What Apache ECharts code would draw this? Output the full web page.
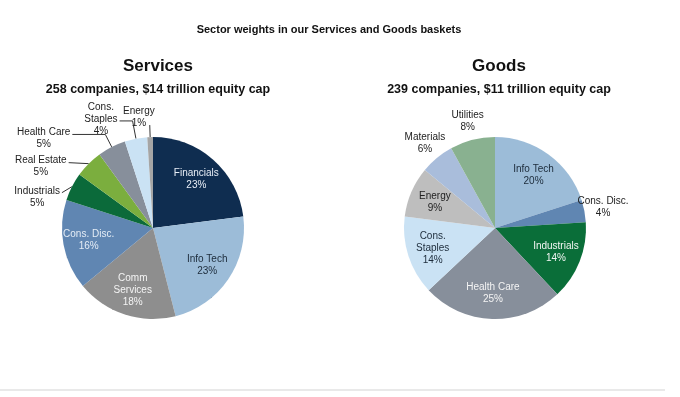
<!DOCTYPE html>
<html>
<head>
<meta charset="utf-8">
<script src="https://cdn.jsdelivr.net/npm/echarts@6/dist/echarts.min.js"></script>
<style>
  html, body { margin: 0; padding: 0; background: #fff; }
  #chart { width: 680px; height: 397px; }
</style>
</head>
<body>
<div id="chart"></div>
<script>
const servicesSectors = ['Financials', 'Info Tech', 'Comm\nServices', 'Cons. Disc.', 'Industrials', 'Real Estate', 'Health Care', 'Cons.\nStaples', 'Energy'];
const servicesWeights = [23, 23, 18, 16, 5, 5, 5, 4, 1];
const servicesColors = ['#0f2d50', '#9cbcd8', '#8e8e8e', '#6086b2', '#0b6a3a', '#7bae3e', '#878f9b', '#cae2f4', '#a5a5a5'];
const servicesLabelColors = ['#e8eef6', '#1c2b3a', '#f4f4f4', '#e4ecf5', '#222', '#222', '#222', '#222', '#222'];

const goodsSectors = ['Info Tech', 'Cons. Disc.', 'Industrials', 'Health Care', 'Cons.\nStaples', 'Energy', 'Materials', 'Utilities'];
const goodsWeights = [20, 4, 14, 25, 14, 9, 6, 8];
const goodsColors = ['#9cbcd8', '#6086b2', '#0a6e39', '#878f9b', '#cae2f4', '#bebebe', '#a9bddb', '#89b190'];
const goodsLabelColors = ['#1c2b3a', '#222', '#f2f6f3', '#f4f4f4', '#1c2b3a', '#222', '#222', '#222'];

// leader lines for the small Services slices: reach out from the edge, then a horizontal tail
const servicesLeaders = {
  'Industrials': { reach: 0, tail: 10, drop: 6, dx: 0, dy: 5 },
  'Real Estate': { reach: 0, tail: 20, drop: -1, dx: 0, dy: 4 },
  'Health Care': { reach: 14, tail: 33, drop: 0, dx: 0, dy: 4 },
  'Cons.\nStaples': { reach: 18, tail: 13, drop: 0, dx: 0, dy: -2 },
  'Energy': { reach: 12, tail: 0, drop: 0, dx: 7, dy: -8 }
};

const R = 91;
const chart = echarts.init(document.getElementById('chart'));
const font = 'Liberation Sans, Arial, sans-serif';

function makeData(names, values, colors, labelColors) {
  return names.map((n, i) => ({
    name: n,
    value: values[i],
    itemStyle: { color: colors[i] },
    label: {
      position: values[i] >= 9 ? 'inside' : 'outside',
      color: labelColors[i]
    }
  }));
}

function midAngles(values) {
  const total = values.reduce((a, b) => a + b, 0);
  let acc = 0;
  return values.map(v => {
    const a = (acc + v / 2) / total * Math.PI * 2;
    acc += v;
    return a;
  });
}

function layoutLabels(cx, cy, names, values, leaders) {
  const angles = midAngles(values);
  return function (params) {
    const i = params.dataIndex;
    const sx = Math.sin(angles[i]), sy = -Math.cos(angles[i]);
    const w = params.labelRect.width;
    if (values[i] >= 9) {
      return { x: cx + sx * R * 0.72, y: cy + sy * R * 0.72, align: 'center', verticalAlign: 'middle' };
    }
    const L = leaders && leaders[names[i]];
    if (!L) {
      const d = R + 19;
      return { x: cx + sx * d, y: cy + sy * d, align: 'center', verticalAlign: 'middle' };
    }
    const p0 = [cx + sx * R, cy + sy * R];
    const p1 = [cx + sx * (R + L.reach), cy + sy * (R + L.reach)];
    const p2 = [p1[0] - L.tail, p1[1] + L.drop];
    return {
      x: p2[0] - 2 - w / 2 + L.dx,
      y: p2[1] + L.dy,
      align: 'center',
      verticalAlign: 'middle',
      labelLinePoints: [p0, p1, p2]
    };
  };
}

const option = {
  animation: false,
  backgroundColor: '#fff',
  title: [
    { text: 'Sector weights in our Services and Goods baskets', left: 324, top: 19, textAlign: 'center',
      textStyle: { fontFamily: font, fontSize: 11, fontWeight: 'bold', color: '#111' } },
    { text: 'Services', left: 153, top: 53, textAlign: 'center',
      textStyle: { fontFamily: font, fontSize: 17, fontWeight: 'bold', color: '#111' } },
    { text: '258 companies, $14 trillion equity cap', left: 153, top: 78, textAlign: 'center',
      textStyle: { fontFamily: font, fontSize: 12.5, fontWeight: 'bold', color: '#111' } },
    { text: 'Goods', left: 494, top: 53, textAlign: 'center',
      textStyle: { fontFamily: font, fontSize: 17, fontWeight: 'bold', color: '#111' } },
    { text: '239 companies, $11 trillion equity cap', left: 494, top: 78, textAlign: 'center',
      textStyle: { fontFamily: font, fontSize: 12.5, fontWeight: 'bold', color: '#111' } }
  ],
  graphic: [
    { type: 'line', shape: { x1: 0, y1: 390, x2: 665, y2: 390 }, style: { stroke: '#e2e2e2', lineWidth: 1.5 } }
  ],
  series: [
    {
      type: 'pie',
      center: [153, 228],
      radius: [0, R],
      startAngle: 90,
      clockwise: true,
      avoidLabelOverlap: false,
      label: { fontFamily: font, fontSize: 10, lineHeight: 12, align: 'center', formatter: '{b}\n{c}%' },
      labelLine: { show: true, length: 3, length2: 3, lineStyle: { color: '#333', width: 1 } },
      labelLayout: layoutLabels(153, 228, servicesSectors, servicesWeights, servicesLeaders),
      data: makeData(servicesSectors, servicesWeights, servicesColors, servicesLabelColors)
    },
    {
      type: 'pie',
      center: [495, 228],
      radius: [0, R],
      startAngle: 90,
      clockwise: true,
      avoidLabelOverlap: false,
      label: { fontFamily: font, fontSize: 10, lineHeight: 12, align: 'center', formatter: '{b}\n{c}%' },
      labelLine: { show: false, length: 3, length2: 3 },
      labelLayout: layoutLabels(495, 228, goodsSectors, goodsWeights, null),
      data: makeData(goodsSectors, goodsWeights, goodsColors, goodsLabelColors)
    }
  ]
};
chart.setOption(option);
</script>
</body>
</html>
